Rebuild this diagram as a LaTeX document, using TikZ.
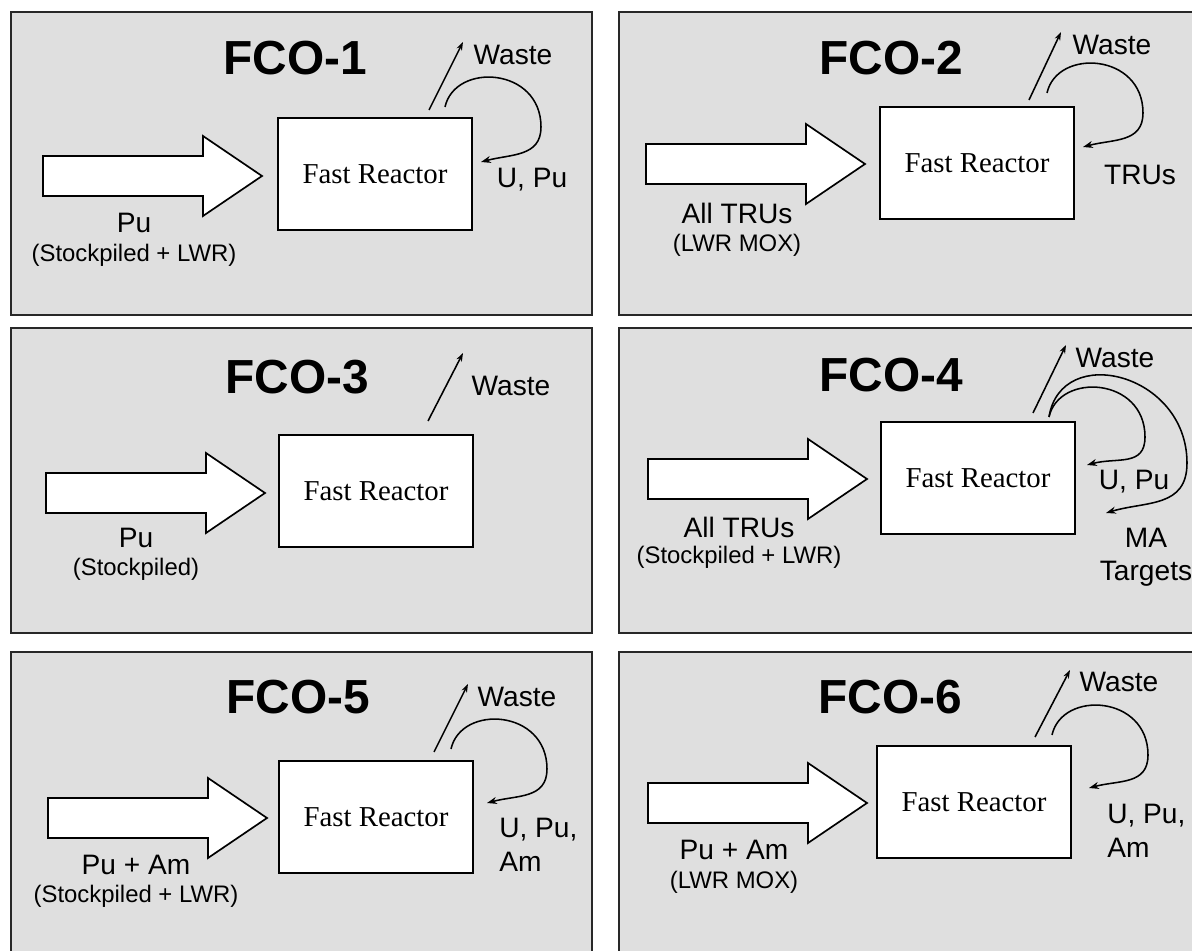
\documentclass[tikz,border=0pt]{standalone}
\usepackage{fontspec}
\setmainfont{Liberation Sans}
\newfontfamily\reactorfont{Liberation Serif}
\usetikzlibrary{arrows.meta,calc,positioning}

\definecolor{panelgray}{RGB}{223,223,223}
\definecolor{rimgray}{RGB}{40,40,40}

\tikzset{
  panel/.style={draw=rimgray, fill=panelgray, line width=1.6pt},
  reactor/.style={draw, fill=white, line width=1.3pt, inner sep=0pt,
    minimum width=4.85cm, minimum height=2.78cm,
    font=\reactorfont\fontsize{20.5}{24}\selectfont},
  feed/.style={draw, fill=white, line width=1.2pt, line join=miter},
  title/.style={font=\fontsize{34}{40}\selectfont\bfseries},
  lbl/.style={font=\fontsize{20}{24}\selectfont, inner sep=0pt},
  sublbl/.style={font=\fontsize{17}{20}\selectfont, inner sep=0pt},
  waste/.style={line width=1.1pt, -{Stealth[length=6pt,width=4.2pt]}},
  recycle/.style={line width=1.1pt, -{Stealth[length=7pt,width=5pt]},
    to path={.. controls +(10,45) and +(0,60) .. ($(\tikztostart)+(96,-20)$)
      .. controls +(0,-30) and +(30,8) .. (\tikztotarget)}}
}

\begin{document}
\begin{tikzpicture}[x=0.025cm, y=0.025cm]
\useasboundingbox (0,0) rectangle (1192,950);
\clip (0,0) rectangle (1192,950);
\fill[white] (0,0) rectangle (1192,950);

% panels
\draw[panel] (11,938) rectangle (592,635);
\draw[panel] (619,938) rectangle (1215,635);
\draw[panel] (11,622) rectangle (592,317);
\draw[panel] (619,622) rectangle (1215,317);
\draw[panel] (11,298) rectangle (592,-30);
\draw[panel] (619,298) rectangle (1215,-30);

% FCO-1
\node[title] (t1) at (295,892) {FCO-1};
\node[reactor] (r1) at (375,776) {Fast Reactor};
\coordinate (f1) at (43,774);
\node[lbl] (l1) at (134,727) {Pu};
\node[sublbl] (s1) at (134,695) {(Stockpiled + LWR)};
\coordinate (w1) at (429,840);
\coordinate (v1) at (463,908);
\node[lbl] (x1) at (513,895) {Waste};
\coordinate (c1) at (445,843);
\coordinate (e1) at (481,788);
\node[lbl] (u1) at (532,770) {U, Pu};

% FCO-2
\node[title] (t2) at (891,892) {FCO-2};
\node[reactor] (r2) at (977,787) {Fast Reactor};
\coordinate (f2) at (646,786);
\node[lbl] (l2) at (737,737) {All TRUs};
\node[sublbl] (s2) at (737,705) {(LWR MOX)};
\coordinate (w2) at (1029,850);
\coordinate (v2) at (1061,918);
\node[lbl] (x2) at (1112,905) {Waste};
\coordinate (c2) at (1047,857);
\coordinate (e2) at (1083,803);
\node[lbl] (u2) at (1140,775) {TRUs};

% FCO-3
\node[title] (t3) at (297,573) {FCO-3};
\node[reactor] (r3) at (376,459) {Fast Reactor};
\coordinate (f3) at (46,457);
\node[lbl] (l3) at (136,412) {Pu};
\node[sublbl] (s3) at (136,381) {(Stockpiled)};
\coordinate (w3) at (428,529);
\coordinate (v3) at (463,597);
\node[lbl] (x3) at (511,564) {Waste};

% FCO-4
\node[title] (t4) at (891,575) {FCO-4};
\node[reactor] (r4) at (978,472) {Fast Reactor};
\coordinate (f4) at (648,471);
\node[lbl] (l4) at (739,423) {All TRUs};
\node[sublbl] (s4) at (739,393) {(Stockpiled + LWR)};
\coordinate (w4) at (1033,537);
\coordinate (v4) at (1066,605);
\node[lbl] (x4) at (1115,592) {Waste};
\coordinate (c4) at (1049,533);
\coordinate (e4) at (1087,485);
\coordinate (o4) at (1187,487);
\coordinate (m4) at (1106,437);
\node[lbl] (u4) at (1134,468) {U, Pu};
\node[lbl, align=center, font=\fontsize{20}{23.5}\selectfont] (a4) at (1146,393) {MA\\Targets};

% FCO-5
\node[title] (t5) at (298,253) {FCO-5};
\node[reactor] (r5) at (376,133) {Fast Reactor};
\coordinate (f5) at (48,132);
\node[lbl] (l5) at (136,85) {Pu + Am};
\node[sublbl] (s5) at (136,54) {(Stockpiled + LWR)};
\coordinate (w5) at (434,198);
\coordinate (v5) at (468,266);
\node[lbl] (x5) at (517,253) {Waste};
\coordinate (c5) at (451,201);
\coordinate (e5) at (487,147);
\node[lbl, anchor=west, align=left] (u5) at (499,105) {U, Pu,\\Am};

% FCO-6
\node[title] (t6) at (890,253) {FCO-6};
\node[reactor] (r6) at (974,148) {Fast Reactor};
\coordinate (f6) at (648,147);
\node[lbl] (l6) at (734,100) {Pu + Am};
\node[sublbl] (s6) at (734,68) {(LWR MOX)};
\coordinate (w6) at (1035,213);
\coordinate (v6) at (1070,280);
\node[lbl] (x6) at (1119,268) {Waste};
\coordinate (c6) at (1052,215);
\coordinate (e6) at (1089,162);
\node[lbl, anchor=west, align=left] (u6) at (1107,119) {U, Pu,\\Am};

% feed arrows
\foreach \i in {1,...,6}
  \draw[feed] (f\i) ++(0,20) -- ++(160,0) -- ++(0,20) -- ++(59,-40)
    -- ++(-59,-40) -- ++(0,20) -- ++(-160,0) -- cycle;

% waste streams
\foreach \i in {1,...,6}
  \draw[waste] (w\i) -- (v\i);

% recycle loops
\foreach \i in {1,2,4,5,6}
  \draw[recycle] (c\i) to (e\i);
\draw[line width=1.1pt, -{Stealth[length=7pt,width=5pt]}]
  (c4) .. controls +(12,75) and +(0,90) .. (o4)
  .. controls +(0,-45) and +(40,12) .. (m4);
\end{tikzpicture}
\end{document}
